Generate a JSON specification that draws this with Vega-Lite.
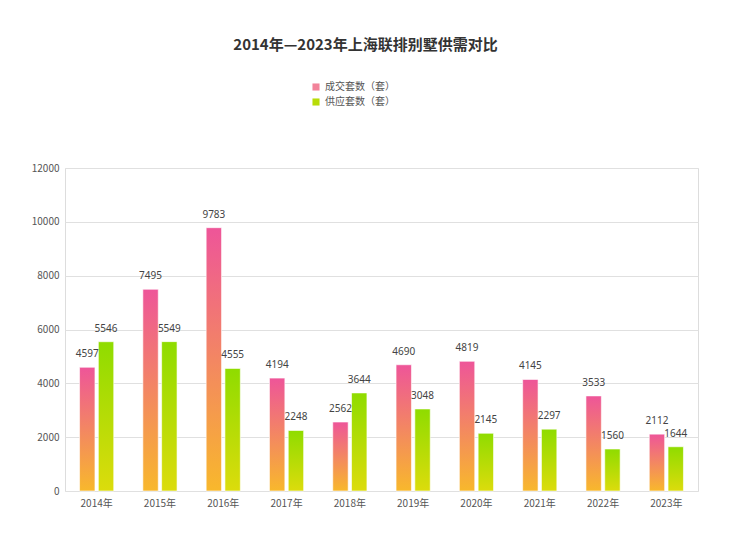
{
  "$schema": "https://vega.github.io/schema/vega-lite/v6.json",
  "width": 633,
  "height": 323,
  "autosize": "none",
  "padding": {"left": 65, "top": 168, "right": 42, "bottom": 45},
  "background": "white",
  "title": {
    "text": "2014年—2023年上海联排别墅供需对比",
    "font": "Noto Sans CJK SC",
    "fontSize": 15,
    "fontWeight": "bold",
    "color": "#333333",
    "anchor": "middle",
    "dx": -16,
    "offset": 29
  },
  "data": {
    "values": [
      {"year": "2014年", "series": "成交套数（套）", "value": 4597},
      {"year": "2014年", "series": "供应套数（套）", "value": 5546},
      {"year": "2015年", "series": "成交套数（套）", "value": 7495},
      {"year": "2015年", "series": "供应套数（套）", "value": 5549},
      {"year": "2016年", "series": "成交套数（套）", "value": 9783},
      {"year": "2016年", "series": "供应套数（套）", "value": 4555},
      {"year": "2017年", "series": "成交套数（套）", "value": 4194},
      {"year": "2017年", "series": "供应套数（套）", "value": 2248},
      {"year": "2018年", "series": "成交套数（套）", "value": 2562},
      {"year": "2018年", "series": "供应套数（套）", "value": 3644},
      {"year": "2019年", "series": "成交套数（套）", "value": 4690},
      {"year": "2019年", "series": "供应套数（套）", "value": 3048},
      {"year": "2020年", "series": "成交套数（套）", "value": 4819},
      {"year": "2020年", "series": "供应套数（套）", "value": 2145},
      {"year": "2021年", "series": "成交套数（套）", "value": 4145},
      {"year": "2021年", "series": "供应套数（套）", "value": 2297},
      {"year": "2022年", "series": "成交套数（套）", "value": 3533},
      {"year": "2022年", "series": "供应套数（套）", "value": 1560},
      {"year": "2023年", "series": "成交套数（套）", "value": 2112},
      {"year": "2023年", "series": "供应套数（套）", "value": 1644}
    ]
  },
  "encoding": {
    "x": {
      "field": "year",
      "type": "nominal",
      "sort": null,
      "scale": {"paddingInner": 0.46, "paddingOuter": 0.23},
      "axis": {
        "title": null,
        "labelAngle": 0,
        "labelFontSize": 10,
        "labelColor": "#555555",
        "labelFont": "Noto Sans CJK SC",
        "ticks": false,
        "domain": false,
        "labelPadding": 7
      }
    },
    "xOffset": {
      "field": "series",
      "type": "nominal",
      "sort": ["成交套数（套）", "供应套数（套）"],
      "scale": {"domain": ["成交套数（套）", "供应套数（套）"], "paddingInner": 0.18}
    },
    "y": {
      "field": "value",
      "type": "quantitative",
      "scale": {"domain": [0, 12000]},
      "axis": {
        "title": null,
        "values": [0, 2000, 4000, 6000, 8000, 10000, 12000],
        "format": "d",
        "labelFontSize": 10,
        "labelColor": "#555555",
        "labelFont": "Noto Sans CJK SC",
        "ticks": false,
        "domain": false,
        "labelPadding": 6,
        "gridColor": "#e0e0e0"
      }
    }
  },
  "layer": [
    {
      "mark": {"type": "bar", "opacity": 0},
      "encoding": {
        "fill": {
          "field": "series",
          "type": "nominal",
          "scale": {
            "domain": ["成交套数（套）", "供应套数（套）"],
            "range": ["#f2839a", "#b8dc08"]
          },
          "legend": {
            "title": null,
            "orient": "none",
            "legendX": 246,
            "legendY": -86,
            "direction": "vertical",
            "symbolType": "square",
            "symbolSize": 50,
            "symbolOpacity": 1,
            "symbolStrokeWidth": 0,
            "labelFontSize": 10,
            "labelColor": "#555555",
            "labelFont": "Noto Sans CJK SC",
            "rowPadding": 5,
            "encode": {
              "symbols": {
                "update": {
                  "fill": [
                    {"test": "datum.value === '成交套数（套）'",
                     "value": {"gradient": "linear", "x1": 0, "y1": 0, "x2": 0, "y2": 1,
                               "stops": [{"offset": 0, "color": "#ee5599"}, {"offset": 1, "color": "#f8b82c"}]}},
                    {"value": {"gradient": "linear", "x1": 0, "y1": 0, "x2": 0, "y2": 1,
                               "stops": [{"offset": 0, "color": "#8fdc00"}, {"offset": 1, "color": "#dcdc0c"}]}}
                  ]
                }
              }
            }
          }
        }
      }
    },
    {
      "transform": [{"filter": "datum.series === '成交套数（套）'"}],
      "mark": {
        "type": "bar",
        "stroke": "#ffffff",
        "strokeOpacity": 0.6,
        "strokeWidth": 1,
        "fill": {"gradient": "linear", "x1": 0, "y1": 0, "x2": 0, "y2": 1,
                 "stops": [{"offset": 0, "color": "#ee5599"}, {"offset": 1, "color": "#f8b82c"}]}
      }
    },
    {
      "transform": [{"filter": "datum.series === '供应套数（套）'"}],
      "mark": {
        "type": "bar",
        "stroke": "#ffffff",
        "strokeOpacity": 0.6,
        "strokeWidth": 1,
        "fill": {"gradient": "linear", "x1": 0, "y1": 0, "x2": 0, "y2": 1,
                 "stops": [{"offset": 0, "color": "#8fdc00"}, {"offset": 1, "color": "#dcdc0c"}]}
      }
    },
    {
      "mark": {"type": "text", "baseline": "bottom", "dy": -8, "fontSize": 10, "color": "#444444", "font": "Noto Sans"},
      "encoding": {
        "text": {"field": "value", "type": "quantitative", "format": "d"}
      }
    }
  ],
  "config": {
    "view": {"stroke": "#dddddd"}
  }
}
